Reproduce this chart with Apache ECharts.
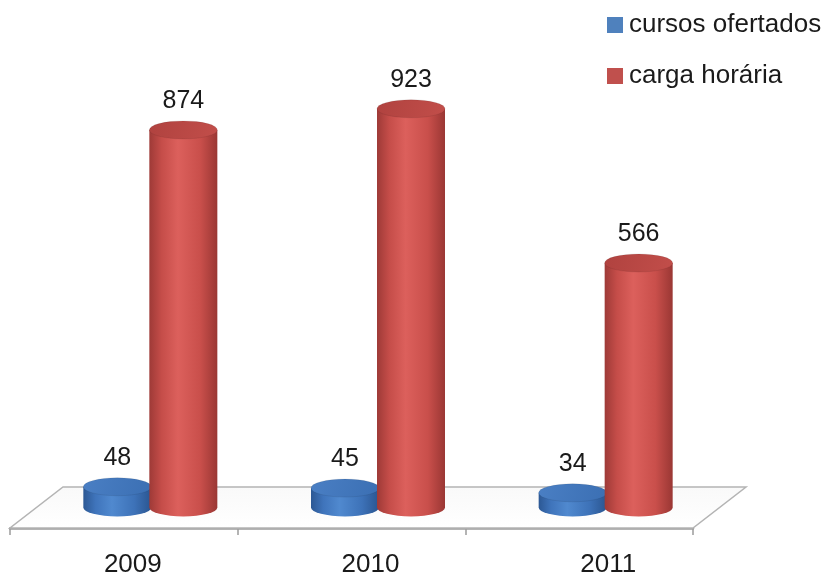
<!DOCTYPE html>
<html>
<head>
<meta charset="utf-8">
<script src="https://cdn.jsdelivr.net/npm/echarts@6/dist/echarts.min.js"></script>
<style>
  html, body { margin: 0; padding: 0; background: #ffffff; }
  #chart { width: 831px; height: 578px; }
</style>
</head>
<body>
<div id="chart"></div>
<script>
// Courses offered and course hours per year
const categories = ['2009', '2010', '2011'];
const cursosOfertados = [48, 45, 34];
const cargaHoraria = [874, 923, 566];
const seriesNames = ['cursos ofertados', 'carga horária'];

// Pseudo-3D geometry (pixels)
const DEPTH_X = 53;      // floor depth, horizontal component
const DEPTH_Y = 41;      // floor depth, vertical component
const BAR_OFFSET = 33;   // distance of each cylinder from the category centre
const RX = 34;           // cylinder radius
const RY = 9;            // ellipse half-height
const LABEL_GAP = 29;    // value label above top face
const FONT = '"Liberation Sans", Arial, Helvetica, sans-serif';

const palette = {
  blue: {
    legend: '#4F81BD',
    body: [[0, '#2c5894'], [0.18, '#3f74bb'], [0.42, '#5089cf'], [0.75, '#3d72b8'], [1, '#2a5590']],
    top: [[0, '#4a7fc4'], [1, '#3b6fb3']]
  },
  red: {
    legend: '#C0504D',
    body: [[0, '#9e3a37'], [0.18, '#c54d49'], [0.42, '#dc605c'], [0.75, '#c94f4b'], [1, '#9a3734']],
    top: [[0, '#b0423f'], [1, '#c24e4a']]
  }
};

function pairs(values) {
  return values.map((v, i) => [i, v]);
}

function cylinderRenderer(side, colors) {
  return function (params, api) {
    const idx = api.value(0);
    const val = api.value(1);
    const base = api.coord([idx, 0]);
    const top = api.coord([idx, val]);
    const cx = base[0] + side * BAR_OFFSET + DEPTH_X / 2;
    const by = base[1] - DEPTH_Y / 2;
    const ty = top[1] - DEPTH_Y / 2;
    const l = cx - RX, r = cx + RX;
    const bodyPath =
      'M' + l + ' ' + ty +
      'L' + l + ' ' + by +
      'A' + RX + ' ' + RY + ' 0 0 0 ' + r + ' ' + by +
      'L' + r + ' ' + ty + 'Z';
    const topPath =
      'M' + l + ' ' + ty +
      'A' + RX + ' ' + RY + ' 0 0 1 ' + r + ' ' + ty +
      'A' + RX + ' ' + RY + ' 0 0 1 ' + l + ' ' + ty + 'Z';
    return {
      type: 'group',
      children: [
        {
          type: 'path',
          shape: { pathData: bodyPath },
          style: {
            fill: {
              type: 'linear', x: 0, y: 0, x2: 1, y2: 0,
              colorStops: colors.body.map(s => ({ offset: s[0], color: s[1] }))
            }
          }
        },
        {
          type: 'path',
          shape: { pathData: topPath },
          style: {
            fill: {
              type: 'linear', x: 0, y: 0, x2: 1, y2: 1,
              colorStops: colors.top.map(s => ({ offset: s[0], color: s[1] }))
            },
            stroke: 'rgba(0,0,0,0.08)',
            lineWidth: 1
          }
        },
        {
          type: 'text',
          x: cx,
          y: ty - LABEL_GAP,
          style: {
            text: String(val),
            align: 'center',
            verticalAlign: 'middle',
            fontSize: 25,
            fontFamily: FONT,
            fill: '#1a1a1a'
          }
        }
      ]
    };
  };
}

// Floor parallelogram spanning all category bands
function floorRenderer(params, api) {
  const c0 = api.coord([0, 0]);
  const band = api.size([1, 0])[0];
  const left = c0[0] - band / 2;
  const right = left + band * categories.length;
  const y = c0[1];
  return {
    type: 'polygon',
    shape: {
      points: [
        [left, y], [right, y],
        [right + DEPTH_X, y - DEPTH_Y], [left + DEPTH_X, y - DEPTH_Y]
      ]
    },
    style: {
      fill: {
        type: 'linear', x: 0, y: 0, x2: 0, y2: 1,
        colorStops: [{ offset: 0, color: '#f9f9f9' }, { offset: 1, color: '#ffffff' }]
      },
      stroke: '#b4b4b4',
      lineWidth: 1.5
    },
    silent: true
  };
}

const chart = echarts.init(document.getElementById('chart'), null, { renderer: 'canvas' });

chart.setOption({
  animation: false,
  backgroundColor: '#ffffff',
  legend: {
    orient: 'vertical',
    left: 602,
    top: 7,
    icon: 'rect',
    itemWidth: 16,
    itemHeight: 16,
    itemGap: 25,
    data: seriesNames,
    textStyle: {
      fontSize: 26,
      lineHeight: 26,
      fontFamily: FONT,
      color: '#1a1a1a',
      padding: [0, 0, 0, 1]
    }
  },
  grid: [
    { left: 10, right: 138, top: 96, bottom: 50 },
    { left: 14, right: 104, top: 96, bottom: 50 }
  ],
  xAxis: [
    {
      type: 'category',
      gridIndex: 0,
      data: categories,
      boundaryGap: true,
      axisLine: { show: true, lineStyle: { color: '#9c9c9c', width: 2.5 } },
      axisTick: { show: true, length: 7, lineStyle: { color: '#9c9c9c', width: 1.5 } },
      axisLabel: { show: false },
      splitLine: { show: false }
    },
    {
      type: 'category',
      gridIndex: 1,
      data: categories,
      boundaryGap: true,
      axisLine: { show: false },
      axisTick: { show: false },
      axisLabel: {
        show: true,
        margin: 25,
        fontSize: 26,
        fontFamily: FONT,
        color: '#1a1a1a'
      }
    }
  ],
  yAxis: [
    { type: 'value', gridIndex: 0, min: 0, max: 1000, show: false },
    { type: 'value', gridIndex: 1, min: 0, max: 1000, show: false }
  ],
  series: [
    {
      name: 'floor',
      type: 'custom',
      xAxisIndex: 0,
      yAxisIndex: 0,
      renderItem: floorRenderer,
      data: [[0, 0]],
      encode: { x: 0, y: 1 },
      z: 1,
      silent: true
    },
    {
      name: seriesNames[0],
      type: 'custom',
      xAxisIndex: 0,
      yAxisIndex: 0,
      renderItem: cylinderRenderer(-1, palette.blue),
      data: pairs(cursosOfertados),
      encode: { x: 0, y: 1 },
      itemStyle: { color: palette.blue.legend },
      z: 2
    },
    {
      name: seriesNames[1],
      type: 'custom',
      xAxisIndex: 0,
      yAxisIndex: 0,
      renderItem: cylinderRenderer(1, palette.red),
      data: pairs(cargaHoraria),
      encode: { x: 0, y: 1 },
      itemStyle: { color: palette.red.legend },
      z: 3
    }
  ]
});
</script>
</body>
</html>
